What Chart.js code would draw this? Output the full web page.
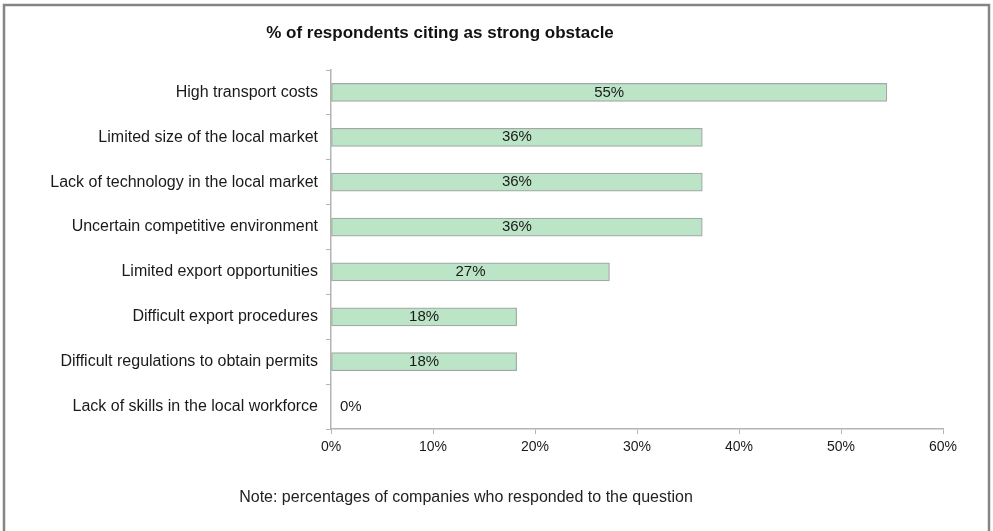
<!DOCTYPE html>
<html>
<head>
<meta charset="utf-8">
<script src="https://cdn.jsdelivr.net/npm/chart.js@4/dist/chart.umd.min.js"></script>
<style>
  html, body { margin: 0; padding: 0; background: #fff; }
  #wrap { width: 993px; height: 531px; position: relative; }
</style>
</head>
<body>
<div id="wrap"><canvas id="obstacles"></canvas></div>
<script>
const obstacles = [
  "High transport costs",
  "Limited size of the local market",
  "Lack of technology in the local market",
  "Uncertain competitive environment",
  "Limited export opportunities",
  "Difficult export procedures",
  "Difficult regulations to obtain permits",
  "Lack of skills in the local workforce",
];
const sharePct = [54.5, 36.4, 36.4, 36.4, 27.3, 18.2, 18.2, 0];
const xTicks = [0, 10, 20, 30, 40, 50, 60];

const titleText = "% of respondents citing as strong obstacle";
const noteText = "Note: percentages of companies who responded to the question";
const FONT = "Arial, 'Liberation Sans', sans-serif";

// frame, title and note around the plot
const frameAndText = {
  id: "frameAndText",
  afterDraw(chart) {
    const ctx = chart.ctx;
    ctx.save();
    ctx.strokeStyle = "#858585";
    ctx.lineWidth = 2.5;
    ctx.strokeRect(4, 5, 985, 560);

    ctx.fillStyle = "#111";
    ctx.textAlign = "center";
    ctx.textBaseline = "middle";
    ctx.font = "bold 17px " + FONT;
    ctx.fillText(titleText, 440, 33);

    ctx.font = "16px " + FONT;
    ctx.fillStyle = "#222";
    ctx.fillText(noteText, 466, 498);
    ctx.restore();
  },
};

// value labels in the middle of each bar
const barLabels = {
  id: "barLabels",
  afterDatasetsDraw(chart) {
    const ctx = chart.ctx;
    const meta = chart.getDatasetMeta(0);
    ctx.save();
    ctx.font = "15px " + FONT;
    ctx.fillStyle = "#1a1a1a";
    ctx.textBaseline = "middle";
    meta.data.forEach((bar, i) => {
      const v = sharePct[i];
      const txt = Math.round(v) + "%";
      if (v === 0) {
        ctx.textAlign = "left";
        ctx.fillText(txt, bar.base + 9, bar.y);
      } else {
        ctx.textAlign = "center";
        ctx.fillText(txt, (bar.base + bar.x) / 2, bar.y);
      }
    });
    ctx.restore();
  },
};

const ctx = document.getElementById("obstacles").getContext("2d");
new Chart(ctx, {
  type: "bar",
  data: {
    labels: obstacles,
    datasets: [
      {
        data: sharePct,
        backgroundColor: "#bce4c7",
        borderColor: "#a3a8a4",
        borderWidth: 1.2,
        borderSkipped: false,
        barThickness: 18,
      },
    ],
  },
  options: {
    indexAxis: "y",
    responsive: true,
    maintainAspectRatio: false,
    animation: false,
    layout: { padding: { top: 70, right: 50, bottom: 72, left: 0 } },
    plugins: {
      legend: { display: false },
      tooltip: { enabled: false },
    },
    scales: {
      x: {
        min: 0,
        max: 60,
        afterFit(scale) { scale.height = 30; },
        afterBuildTicks(scale) {
          scale.ticks = xTicks.map((v) => ({ value: v }));
        },
        grid: {
          drawOnChartArea: false,
          drawTicks: true,
          tickLength: 5,
          color: "#b4b4b4",
        },
        border: { color: "#b4b4b4", width: 1.5 },
        ticks: {
          padding: 5,
          color: "#1a1a1a",
          font: { family: FONT, size: 14 },
          callback: (v) => v + "%",
        },
      },
      y: {
        afterFit(scale) { scale.width = 331; },
        grid: {
          drawOnChartArea: false,
          offset: true,
          tickLength: 5,
          color: "#b4b4b4",
        },
        border: { color: "#b4b4b4", width: 1.5 },
        ticks: {
          padding: 8,
          color: "#1a1a1a",
          font: { family: FONT, size: 16 },
        },
      },
    },
  },
  plugins: [frameAndText, barLabels],
});
</script>
</body>
</html>
